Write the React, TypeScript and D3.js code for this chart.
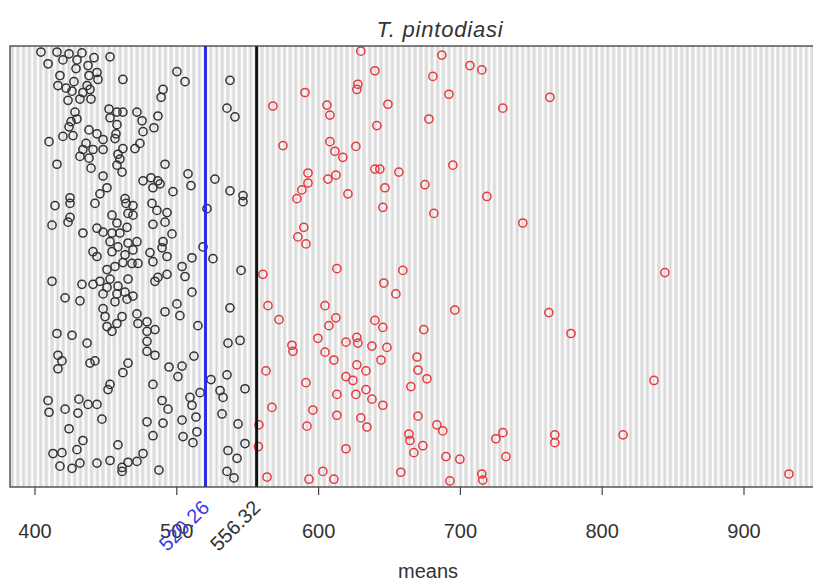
import { useEffect, useRef } from "react";
import * as d3 from "d3";

const W = 813;
const H = 583;
const PLOT = { left: 10, right: 840, top: 46, bottom: 487 };

const TITLE = "T. pintodiasi";
const X_LABEL = "means";
const X_TICKS = [400, 500, 600, 700, 800, 900];
const CUT_VALUES = [520.26, 556.32];
const CUT_LABELS = ["520.26", "556.32"];

// [mean, jitter 0–100] — below the 556.32 cut-off
const lowerPts: [number, number][] = [
  [404.2, 99.3], [415.5, 99.3], [424.0, 98.9], [433.1, 99.1], [409.2, 96.6], [419.7, 97.5],
  [429.6, 97.5], [441.6, 98.0], [437.4, 96.2], [428.9, 95.5], [443.7, 94.6], [452.9, 98.2],
  [417.6, 93.9], [438.1, 93.9], [444.4, 93.0], [427.5, 92.5], [416.2, 91.6], [421.9, 91.0],
  [436.7, 91.6], [426.1, 90.3], [433.8, 90.0], [438.8, 90.7], [423.3, 88.2], [431.7, 88.5],
  [439.5, 88.5], [462.0, 93.0], [500.1, 94.8], [505.8, 92.5], [537.5, 92.8], [490.3, 90.7],
  [488.9, 88.9], [535.4, 86.4], [541.0, 84.4], [428.2, 85.5], [452.2, 86.2], [452.9, 84.2],
  [457.8, 85.5], [462.0, 85.5], [471.9, 85.5], [475.5, 83.5], [486.7, 84.6], [457.8, 82.6],
  [425.4, 83.3], [429.6, 83.9], [424.0, 82.1], [483.9, 81.9], [476.2, 81.0], [438.1, 81.4],
  [419.7, 79.9], [409.9, 78.7], [426.8, 80.1], [443.7, 80.5], [436.0, 78.3], [448.0, 79.2],
  [457.1, 80.5], [456.4, 79.4], [462.0, 77.1], [474.0, 78.3], [470.5, 77.1], [433.8, 76.9],
  [440.9, 76.9], [448.0, 76.9], [431.7, 75.3], [438.1, 74.9], [458.5, 75.8], [459.9, 74.7],
  [415.5, 73.5], [439.5, 72.6], [457.8, 73.3], [461.4, 71.7], [491.7, 73.5], [507.9, 71.3],
  [510.0, 68.6], [526.9, 70.1], [537.5, 67.4], [546.7, 66.3], [448.0, 70.8], [476.2, 69.7],
  [481.8, 70.4], [486.7, 69.7], [483.2, 68.1], [488.2, 69.0], [497.3, 67.2], [450.8, 68.1],
  [445.8, 66.7], [424.7, 65.8], [463.5, 65.6], [414.1, 64.0], [424.7, 64.5], [442.3, 64.5],
  [464.2, 64.5], [469.1, 64.0], [482.5, 64.5], [521.3, 63.3], [424.7, 61.3], [412.0, 59.5],
  [423.3, 60.2], [454.3, 61.8], [465.6, 62.2], [469.1, 61.8], [486.0, 62.9], [493.1, 62.4],
  [491.7, 60.2], [483.2, 59.7], [457.8, 60.0], [464.9, 59.0], [443.7, 58.8], [448.0, 57.9],
  [454.3, 57.7], [433.8, 57.7], [459.9, 57.7], [496.6, 57.5], [471.9, 55.7], [465.6, 55.4],
  [452.9, 55.7], [490.3, 55.7], [489.6, 54.3], [440.9, 53.4], [443.7, 52.3], [454.3, 53.4],
  [458.5, 54.5], [463.5, 52.7], [469.1, 53.8], [481.1, 53.2], [483.2, 51.1], [493.1, 52.3],
  [462.0, 50.9], [468.4, 50.7], [472.6, 50.7], [456.4, 50.0], [450.8, 49.3], [518.5, 54.5],
  [525.5, 51.8], [510.7, 52.0], [503.7, 50.0], [505.8, 47.7], [545.3, 49.1], [486.7, 47.5],
  [493.1, 48.2], [484.6, 46.6], [465.6, 47.1], [412.0, 46.6], [433.1, 45.9], [440.9, 45.9],
  [445.8, 46.6], [452.9, 47.1], [450.8, 45.2], [458.5, 45.5], [448.0, 43.7], [457.8, 43.7],
  [463.5, 44.1], [464.9, 42.5], [469.1, 43.2], [456.4, 41.9], [510.7, 44.1], [421.2, 42.8],
  [431.7, 42.1], [500.1, 41.4], [491.7, 39.6], [502.2, 38.7], [537.5, 40.5], [448.0, 40.3],
  [449.4, 38.5], [461.4, 38.5], [471.9, 39.1], [472.6, 36.9], [479.0, 37.3], [450.8, 36.2],
  [454.3, 35.1], [457.8, 36.9], [479.0, 35.1], [484.6, 35.5], [514.9, 36.4], [415.5, 34.6],
  [426.1, 34.2], [436.7, 32.4], [479.0, 32.8], [536.1, 32.4], [544.6, 33.0], [479.0, 30.5],
  [484.6, 29.6], [416.2, 29.6], [419.0, 28.3], [416.2, 26.5], [438.8, 27.8], [442.3, 28.3],
  [465.6, 27.8], [462.0, 25.6], [494.5, 26.9], [503.7, 27.1], [512.1, 29.4], [500.8, 24.7],
  [524.1, 24.0], [535.4, 25.1], [452.9, 22.9], [451.5, 21.7], [483.2, 22.9], [516.4, 21.0],
  [509.3, 19.9], [510.7, 18.1], [530.5, 21.5], [532.6, 19.9], [548.1, 21.9], [409.2, 19.2],
  [409.9, 16.5], [421.2, 17.2], [431.0, 19.5], [430.3, 16.3], [437.4, 18.3], [443.7, 18.3],
  [447.2, 14.9], [489.6, 19.2], [493.8, 17.2], [479.0, 14.3], [490.3, 14.0], [503.7, 14.7],
  [513.5, 15.4], [531.9, 16.1], [424.0, 12.7], [483.2, 11.1], [514.2, 12.0], [504.4, 10.9],
  [511.4, 9.5], [543.2, 13.8], [433.8, 10.0], [429.6, 7.9], [458.5, 9.0], [412.7, 7.0],
  [419.0, 7.2], [417.6, 4.1], [426.1, 3.6], [431.7, 4.8], [443.7, 4.8], [452.9, 5.4],
  [461.4, 3.8], [461.4, 2.9], [465.6, 5.0], [471.9, 5.2], [476.2, 7.0], [487.4, 3.2],
  [536.1, 7.7], [542.5, 5.9], [548.1, 9.3], [535.4, 2.9], [540.3, 1.4], [546.7, 64.9],
];

// [mean, jitter 0–100] — above the 556.32 cut-off
const upperPts: [number, number][] = [
  [567.8, 86.9], [574.9, 77.8], [629.8, 99.5], [639.7, 95.0], [680.6, 93.7], [686.9, 98.6],
  [691.9, 89.6], [706.7, 96.2], [715.1, 95.2], [590.4, 90.0], [605.9, 87.1], [608.0, 84.8],
  [627.7, 91.9], [627.0, 90.7], [648.9, 87.3], [641.1, 82.4], [677.8, 83.9], [729.9, 86.4],
  [763.1, 88.9], [608.0, 78.7], [611.5, 76.5], [617.1, 75.1], [626.3, 77.6], [639.7, 72.4],
  [643.2, 72.4], [656.6, 71.7], [694.7, 73.3], [592.5, 71.5], [592.5, 69.2], [606.6, 70.1],
  [612.2, 71.0], [588.2, 67.6], [584.7, 65.6], [620.7, 66.7], [646.8, 68.1], [675.0, 68.8],
  [718.7, 66.1], [645.3, 63.6], [681.3, 62.2], [744.0, 60.0], [589.6, 59.0], [585.4, 56.8],
  [591.1, 55.2], [560.7, 48.2], [612.9, 49.5], [659.4, 49.1], [646.0, 46.2], [654.5, 43.7],
  [564.3, 41.0], [604.5, 41.0], [696.1, 40.0], [762.4, 39.4], [572.1, 37.8], [612.2, 38.2],
  [607.3, 36.4], [639.7, 37.6], [645.3, 36.0], [674.2, 35.5], [599.5, 33.5], [581.2, 31.9],
  [619.3, 32.6], [627.0, 33.7], [627.7, 32.4], [637.6, 31.7], [648.2, 31.4], [581.9, 30.5],
  [644.0, 28.5], [604.5, 30.3], [610.8, 28.5], [669.4, 29.2], [670.1, 26.2], [676.4, 24.2],
  [562.9, 26.0], [591.1, 23.3], [627.0, 27.4], [633.4, 26.0], [619.3, 24.7], [624.2, 23.8],
  [665.1, 22.4], [612.9, 20.6], [626.3, 20.6], [633.4, 21.7], [637.6, 19.5], [645.3, 18.1],
  [567.1, 17.6], [596.0, 17.0], [612.9, 15.8], [629.8, 15.2], [634.1, 13.1], [670.1, 15.6],
  [557.9, 13.6], [591.8, 13.3], [663.7, 11.5], [664.4, 10.0], [673.5, 8.8], [667.2, 7.2],
  [683.4, 13.6], [687.6, 12.2], [725.0, 10.4], [730.0, 11.8], [732.1, 6.3], [766.6, 11.3],
  [766.6, 9.5], [557.5, 8.6], [619.3, 8.1], [689.8, 6.3], [699.6, 5.7], [563.6, 1.6],
  [593.2, 1.1], [603.0, 2.9], [610.8, 1.1], [658.0, 2.7], [692.6, 0.7], [715.1, 2.3],
  [715.8, 0.9], [844.2, 48.6], [778.0, 34.6], [836.5, 23.8], [814.7, 11.3], [931.7, 2.3],
];

const FONT = "'Liberation Sans', Arial, sans-serif";

export default function App() {
  const svgRef = useRef<SVGSVGElement | null>(null);

  useEffect(() => {
    const svg = d3.select(svgRef.current);
    svg.selectAll("*").remove();

    const x = d3.scaleLinear().domain([400, 900]).range([35, 744]);
    const y = d3.scaleLinear().domain([0, 100]).range([PLOT.bottom - 3, PLOT.top + 3]);

    const clipId = "plot-clip";
    svg
      .append("defs")
      .append("clipPath")
      .attr("id", clipId)
      .append("rect")
      .attr("x", PLOT.left)
      .attr("y", PLOT.top)
      .attr("width", PLOT.right - PLOT.left)
      .attr("height", PLOT.bottom - PLOT.top);

    const plot = svg.append("g").attr("clip-path", `url(#${clipId})`);

    // Striped background.
    plot
      .append("rect")
      .attr("x", PLOT.left)
      .attr("y", PLOT.top)
      .attr("width", PLOT.right - PLOT.left)
      .attr("height", PLOT.bottom - PLOT.top)
      .attr("fill", "#e6e6e6");
    const d0 = x.invert(PLOT.left);
    const d1 = x.invert(PLOT.right);
    plot
      .selectAll("line.stripe")
      .data(d3.range(Math.floor(d0), d1, 4))
      .join("line")
      .attr("class", "stripe")
      .attr("x1", (d) => x(d))
      .attr("x2", (d) => x(d))
      .attr("y1", PLOT.top)
      .attr("y2", PLOT.bottom)
      .attr("stroke", "#ffffff")
      .attr("stroke-width", 1.6);
    plot
      .selectAll("line.stripe2")
      .data(d3.range(Math.floor(d0) + 2, d1, 4))
      .join("line")
      .attr("class", "stripe2")
      .attr("x1", (d) => x(d))
      .attr("x2", (d) => x(d))
      .attr("y1", PLOT.top)
      .attr("y2", PLOT.bottom)
      .attr("stroke", "#d2d2d2")
      .attr("stroke-width", 0.8);

    // Points.
    plot
      .selectAll("circle.lower")
      .data(lowerPts)
      .join("circle")
      .attr("class", "lower")
      .attr("cx", (d) => x(d[0]))
      .attr("cy", (d) => y(d[1]))
      .attr("r", 4.1)
      .attr("fill", "none")
      .attr("stroke", "#333333")
      .attr("stroke-width", 1.5);
    plot
      .selectAll("circle.upper")
      .data(upperPts)
      .join("circle")
      .attr("class", "upper")
      .attr("cx", (d) => x(d[0]))
      .attr("cy", (d) => y(d[1]))
      .attr("r", 4.1)
      .attr("fill", "none")
      .attr("stroke", "#e63a3f")
      .attr("stroke-width", 1.5);

    // Cut-off lines.
    const lineColors = ["#2b2be6", "#111111"];
    plot
      .selectAll("line.cut")
      .data(CUT_VALUES)
      .join("line")
      .attr("class", "cut")
      .attr("x1", (d) => x(d))
      .attr("x2", (d) => x(d))
      .attr("y1", PLOT.top)
      .attr("y2", PLOT.bottom)
      .attr("stroke", (_, i) => lineColors[i])
      .attr("stroke-width", 3);

    // Frame.
    svg
      .append("rect")
      .attr("x", PLOT.left)
      .attr("y", PLOT.top)
      .attr("width", PLOT.right - PLOT.left)
      .attr("height", PLOT.bottom - PLOT.top)
      .attr("fill", "none")
      .attr("stroke", "#3c3c3c")
      .attr("stroke-width", 1.3);

    // Axis ticks + labels.
    const ax = svg.append("g");
    ax.selectAll("line")
      .data(X_TICKS)
      .join("line")
      .attr("x1", (d) => x(d))
      .attr("x2", (d) => x(d))
      .attr("y1", PLOT.bottom)
      .attr("y2", PLOT.bottom + 8)
      .attr("stroke", "#444")
      .attr("stroke-width", 1.2);
    ax.selectAll("text")
      .data(X_TICKS)
      .join("text")
      .attr("x", (d) => x(d))
      .attr("y", 538)
      .attr("text-anchor", "middle")
      .attr("font-family", FONT)
      .attr("font-size", 20)
      .attr("fill", "#333")
      .text((d) => d3.format("d")(d));

    // Rotated cut-off labels.
    const labelColors = ["#3b3be0", "#333333"];
    svg
      .append("g")
      .selectAll("text")
      .data(CUT_VALUES)
      .join("text")
      .attr("transform", (d) => `translate(${x(d) + 5},509) rotate(-45)`)
      .attr("text-anchor", "end")
      .attr("font-family", FONT)
      .attr("font-size", 20)
      .attr("fill", (_, i) => labelColors[i])
      .text((_, i) => CUT_LABELS[i]);

    svg
      .append("text")
      .attr("x", 440)
      .attr("y", 37)
      .attr("text-anchor", "middle")
      .attr("font-family", FONT)
      .attr("font-style", "italic")
      .attr("font-size", 22)
      .attr("letter-spacing", 0.8)
      .attr("fill", "#333")
      .text(TITLE);

    svg
      .append("text")
      .attr("x", 428)
      .attr("y", 578)
      .attr("text-anchor", "middle")
      .attr("font-family", FONT)
      .attr("font-size", 20)
      .attr("fill", "#333")
      .text(X_LABEL);
  }, []);

  return (
    <svg
      ref={svgRef}
      width={W}
      height={H}
      viewBox={`0 0 ${W} ${H}`}
      style={{ position: "absolute", left: 0, top: 0, background: "#fff", display: "block" }}
    />
  );
}
